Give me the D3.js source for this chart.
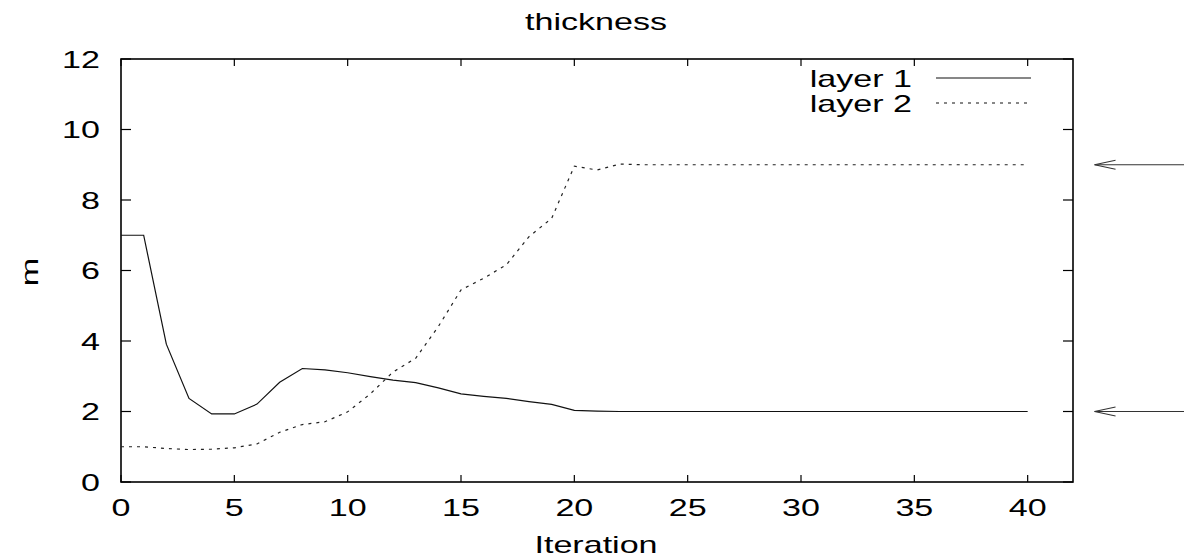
<!DOCTYPE html>
<html>
<head>
<meta charset="utf-8">
<script src="https://cdn.jsdelivr.net/npm/d3@7"></script>
<style>
  body { margin: 0; background: #fff; }
  svg text { font-family: "Liberation Sans", Arial, sans-serif; fill: #000; }
</style>
</head>
<body>
<svg id="chart"></svg>
<script>
const iterations = d3.range(0, 41);
const layer1 = [7.0, 7.0, 3.91, 2.37, 1.93, 1.93, 2.21, 2.83, 3.22, 3.18, 3.10,
  2.99, 2.89, 2.82, 2.67, 2.50, 2.43, 2.37, 2.28, 2.20, 2.03,
  2.01, 2.0, 2.0, 2.0, 2.0, 2.0, 2.0, 2.0, 2.0, 2.0,
  2.0, 2.0, 2.0, 2.0, 2.0, 2.0, 2.0, 2.0, 2.0, 2.0];
const layer2 = [1.0, 1.0, 0.95, 0.92, 0.93, 0.97, 1.08, 1.41, 1.63, 1.71, 1.99,
  2.50, 3.12, 3.51, 4.41, 5.45, 5.78, 6.16, 6.96, 7.48, 8.96,
  8.85, 9.02, 9.0, 9.0, 9.0, 9.0, 9.0, 9.0, 9.0, 9.0,
  9.0, 9.0, 9.0, 9.0, 9.0, 9.0, 9.0, 9.0, 9.0, 9.0];
const seriesNames = ["layer 1", "layer 2"];
const xTicks = [0, 5, 10, 15, 20, 25, 30, 35, 40];
const yTicks = [0, 2, 4, 6, 8, 10, 12];
const trueValues = [9, 2];

const W = 1184, H = 559;
const margin = {top: 59, right: 111, bottom: 77, left: 121},
    width = W - margin.left - margin.right,
    height = H - margin.top - margin.bottom;
const sx = 1.42; // the font in the original is wide

const svg = d3.select("#chart").attr("width", W).attr("height", H);
const g = svg.append("g").attr("transform", `translate(${margin.left},${margin.top})`);

const x = d3.scaleLinear().domain([0, 42]).range([0, width]);
const y = d3.scaleLinear().domain([0, 12]).range([height, 0]);

function label(sel, px, py, txt, anchor, rot) {
  sel.append("text")
    .attr("transform", `translate(${px},${py}) rotate(${rot || 0}) scale(${sx},1)`)
    .attr("text-anchor", anchor)
    .style("font-size", "24px")
    .text(txt);
}

// ticks, inward on all four sides
xTicks.forEach(t => {
  g.append("line").attr("x1", x(t)).attr("x2", x(t)).attr("y1", height).attr("y2", height - 7).attr("stroke", "#000").attr("stroke-width", 1.2);
  g.append("line").attr("x1", x(t)).attr("x2", x(t)).attr("y1", 0).attr("y2", 7).attr("stroke", "#000").attr("stroke-width", 1.2);
  label(g, x(t), height + 34, t, "middle");
});
yTicks.forEach(t => {
  g.append("line").attr("x1", 0).attr("x2", 10).attr("y1", y(t)).attr("y2", y(t)).attr("stroke", "#000").attr("stroke-width", 1.2);
  g.append("line").attr("x1", width).attr("x2", width - 10).attr("y1", y(t)).attr("y2", y(t)).attr("stroke", "#000").attr("stroke-width", 1.2);
  label(g, -21, y(t) + 8.5, t, "end");
});

g.append("rect").attr("width", width).attr("height", height)
  .attr("fill", "none").attr("stroke", "#000").attr("stroke-width", 1.6);

const line = d3.line().x((d, i) => x(iterations[i])).y(d => y(d));

g.append("path").datum(layer1).attr("d", line)
  .attr("fill", "none").attr("stroke", "#111").attr("stroke-width", 1.2);
g.append("path").datum(layer2).attr("d", line)
  .attr("fill", "none").attr("stroke", "#222").attr("stroke-width", 1.2)
  .attr("stroke-dasharray", "3,5");

// legend
const dashes = [null, "3,5"];
seriesNames.forEach((s, i) => {
  const ly = 19 + i * 25;
  label(g, 791, ly + 9, s, "end");
  g.append("line").attr("x1", 815).attr("x2", 910).attr("y1", ly).attr("y2", ly)
    .attr("stroke", "#111").attr("stroke-width", 1.2)
    .attr("stroke-dasharray", dashes[i]);
});

// arrows marking the true values
trueValues.forEach(v => {
  const tip = x(42.95), yy = y(v);
  g.append("line").attr("x1", tip).attr("x2", x(47)).attr("y1", yy).attr("y2", yy)
    .attr("stroke", "#333").attr("stroke-width", 1.1);
  g.append("path").attr("d", `M${tip + 21},${yy - 4.5}L${tip},${yy}L${tip + 21},${yy + 4.5}`)
    .attr("fill", "none").attr("stroke", "#333").attr("stroke-width", 1.1);
});

// titles
label(svg, 596, 30, "thickness", "middle");
label(svg, 596, 553, "Iteration", "middle");
label(svg, 38, 272, "m", "middle", -90);
</script>
</body>
</html>
